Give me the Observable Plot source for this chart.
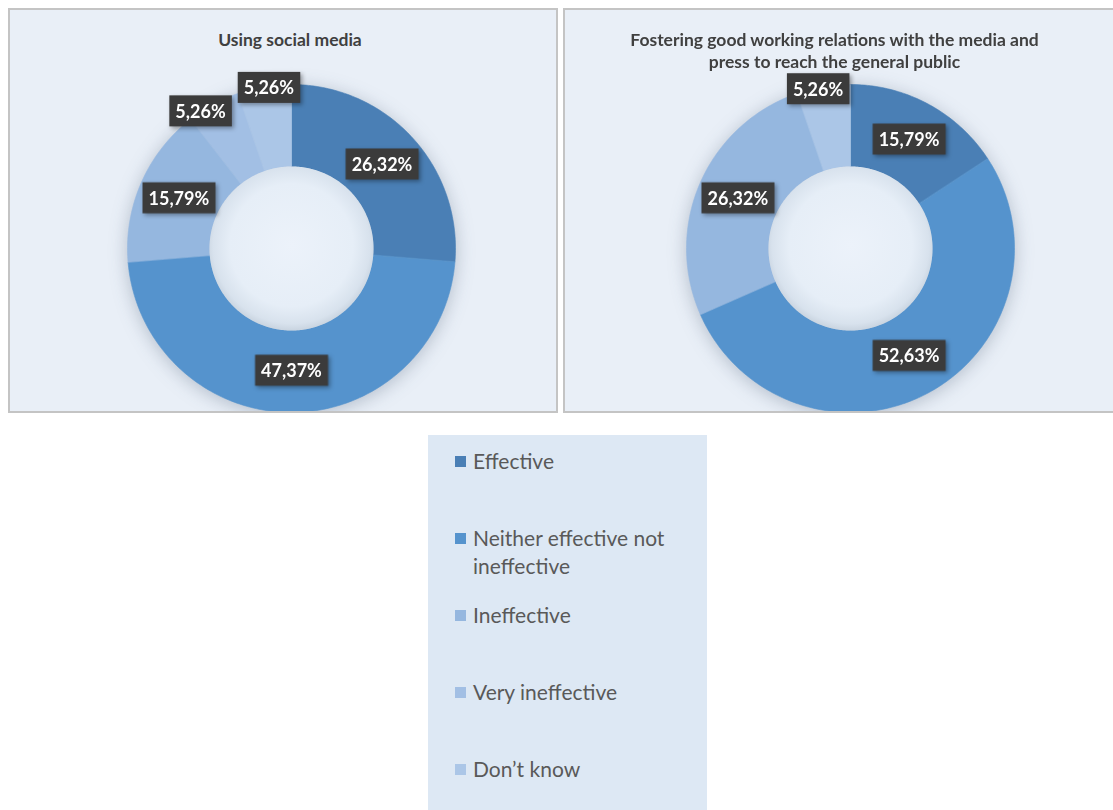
<!DOCTYPE html>
<html><head><meta charset="utf-8">
<script src="https://cdn.jsdelivr.net/npm/d3@7"></script>
<script src="https://cdn.jsdelivr.net/npm/@observablehq/plot@0.6"></script>
<style>
body{margin:0;background:#fff;width:1113px;height:810px;overflow:hidden;font-family:Lato,"Open Sans",sans-serif;position:relative}
.panel{position:absolute;top:8px;height:401px;background:#e9eff7;border:2px solid #c4c4c4;overflow:hidden}
.panel svg{position:absolute;left:0;top:0}
.title{position:absolute;top:19px;text-align:center;font-weight:700;font-size:17.5px;color:#404040;white-space:pre-line;line-height:22px;z-index:2}
.legend{position:absolute;left:428px;top:435px;width:279px;height:375px;background:#dde8f4}
.item{position:absolute;left:27px;width:250px;font-size:21px;color:#595959;line-height:28px;padding-left:18px}
.sw{position:absolute;left:0;top:9px;width:11px;height:11px}
</style></head>
<body>
<div id="root"></div>
<script>
const categories = ["Effective", "Neither effective not ineffective", "Ineffective", "Very ineffective", "Don\u2019t know"];
const colors = ["#4a7fb5", "#5593cd", "#95b7df", "#a2bfe4", "#abc6e7"];
const chartTitles = ["Using social media", "Fostering good working relations with the media and\npress to reach the general public"];
const socialMedia = [26.32, 47.37, 15.79, 5.26, 5.26];
const mediaRelations = [15.79, 52.63, 26.32, 0, 5.26];
const legendLabels = ["Effective", "Neither effective not\nineffective", "Ineffective", "Very ineffective", "Don\u2019t know"];

const fmt = v => v.toFixed(2).replace(".", ",") + "%";
const INNER = 0.5;
const MIN_SEP = 26 * Math.PI / 180;

function buildRows(values) {
  const total = d3.sum(values);
  let acc = 0;
  const ring = [], labels = [], hole = [];
  values.forEach((v, i) => {
    const a0 = acc / total * 2 * Math.PI; acc += v; const a1 = acc / total * 2 * Math.PI;
    if (v <= 0) return;
    const n = Math.max(2, Math.ceil((a1 - a0) / (Math.PI / 180)));
    for (let k = 0; k <= n; k++) { const a = a0 + (a1 - a0) * k / n; ring.push({cat: categories[i], x: Math.sin(a), y: Math.cos(a)}); }
    for (let k = n; k >= 0; k--) { const a = a0 + (a1 - a0) * k / n; ring.push({cat: categories[i], x: INNER * Math.sin(a), y: INNER * Math.cos(a)}); }
    labels.push({cat: categories[i], label: fmt(v), small: v < 10, angle: (a0 + a1) / 2});
  });
  // spread adjacent outside labels apart so their boxes do not collide
  const smalls = labels.filter(d => d.small);
  for (let j = 1; j < smalls.length; j++) {
    const p = smalls[j - 1], q = smalls[j];
    if (q.angle - p.angle < MIN_SEP) {
      const mid = (p.angle + q.angle) / 2;
      p.angle = mid - MIN_SEP / 2; q.angle = mid + MIN_SEP / 2;
    }
  }
  labels.forEach(d => { const rl = d.small ? 0.98 : 0.75; d.x = rl * Math.sin(d.angle); d.y = rl * Math.cos(d.angle); });
  for (let k = 0; k < 360; k++) { const a = k * Math.PI / 180; hole.push({x: INNER * Math.sin(a), y: INNER * Math.cos(a)}); }
  return {ring, labels, hole};
}

function panel(values, title, left, width, cx, id, titleShift) {
  const H = 401, cy = 238, R = 164;
  const div = document.createElement("div");
  div.className = "panel";
  div.style.left = left + "px";
  div.style.width = width + "px";
  document.getElementById("root").appendChild(div);
  const {ring, labels, hole} = buildRows(values);
  const gid = "hole-grad-" + id;
  const textOpts = {x: "x", y: "y", text: "label", fill: "white", fontWeight: 700, fontSize: 18, fontFamily: "Lato, 'Open Sans', sans-serif"};
  const svg = Plot.plot({
    width, height: H, margin: 0,
    style: {background: "transparent", overflow: "visible"},
    x: {domain: [-cx / R, (width - cx) / R], axis: null},
    y: {domain: [-(H - cy) / R, cy / R], axis: null},
    color: {domain: categories, range: colors},
    marks: [
      Plot.line(ring, {x: "x", y: "y", z: "cat", fill: "cat", stroke: "cat", strokeWidth: 0.6, curve: "linear-closed"}),
      Plot.line(hole, {x: "x", y: "y", fill: `url(#${gid})`, stroke: "none", curve: "linear-closed"}),
      Plot.text(labels.filter(d => !d.small), textOpts),
      Plot.text(labels.filter(d => d.small), {...textOpts, dx: -6})
    ]
  });
  div.appendChild(svg);
  const ns = "http://www.w3.org/2000/svg";
  const defs = document.createElementNS(ns, "defs");
  defs.innerHTML = `<radialGradient id="${gid}" cx="50%" cy="48%" r="52%"><stop offset="0%" stop-color="#ecf2fa"/><stop offset="72%" stop-color="#e6eef7"/><stop offset="92%" stop-color="#d8e2ed"/><stop offset="100%" stop-color="#c9d4e0"/></radialGradient>`;
  svg.insertBefore(defs, svg.firstChild);
  const t = document.createElement("div");
  t.className = "title"; t.textContent = title;
  t.style.left = Math.max(0, titleShift) + "px";
  t.style.right = Math.max(0, -titleShift) + "px";
  div.appendChild(t);
  const lineG = svg.querySelector('g[aria-label="line"]');
  if (lineG) lineG.style.filter = "drop-shadow(0px 3px 9px rgba(40,60,90,0.28))";
  svg.querySelectorAll('g[aria-label="text"]').forEach(textG => {
    const bg = document.createElementNS(ns, "g");
    bg.style.filter = "drop-shadow(2px 2px 2px rgba(0,0,0,0.35))";
    textG.querySelectorAll("text").forEach(tx => {
      const b = tx.getBBox();
      const r = document.createElementNS(ns, "rect");
      r.setAttribute("x", b.x - 6); r.setAttribute("y", b.y - 4.5);
      r.setAttribute("width", b.width + 12); r.setAttribute("height", b.height + 9);
      r.setAttribute("fill", "#3b3b3b");
      const tr = tx.getAttribute("transform");
      if (tr) r.setAttribute("transform", tr);
      bg.appendChild(r);
    });
    const tgTr = textG.getAttribute("transform");
    if (tgTr) bg.setAttribute("transform", tgTr);
    textG.parentNode.insertBefore(bg, textG);
  });
}

panel(socialMedia, chartTitles[0], 8, 546, 281, 1, 14);
panel(mediaRelations, chartTitles[1], 563, 548, 285, 2, -9);

const lg = document.createElement("div");
lg.className = "legend";
document.getElementById("root").appendChild(lg);
legendLabels.forEach((lab, i) => {
  const it = document.createElement("div");
  it.className = "item";
  it.style.top = (12 + i * 77) + "px";
  it.style.whiteSpace = "pre-line";
  const sw = document.createElement("div");
  sw.className = "sw"; sw.style.background = colors[i];
  it.appendChild(sw);
  it.appendChild(document.createTextNode(lab));
  lg.appendChild(it);
});
</script>
</body></html>
